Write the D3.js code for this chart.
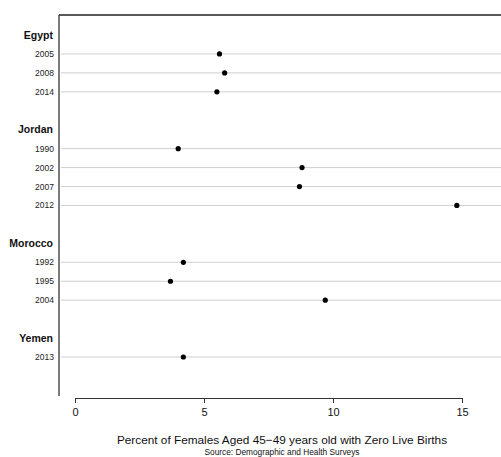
<!DOCTYPE html>
<html>
<head>
<meta charset="utf-8">
<script src="https://cdn.jsdelivr.net/npm/d3@7"></script>
<style>
  body { margin: 0; background: #fff; }
  text { font-family: "Liberation Sans", Arial, sans-serif; }
</style>
</head>
<body>
<script>
// data
var countries = ["Egypt", "Jordan", "Morocco", "Yemen"];
var egyptYears = ["2005", "2008", "2014"];
var egyptValues = [5.6, 5.8, 5.5];
var jordanYears = ["1990", "2002", "2007", "2012"];
var jordanValues = [4.0, 8.8, 8.7, 14.8];
var moroccoYears = ["1992", "1995", "2004"];
var moroccoValues = [4.2, 3.7, 9.7];
var yemenYears = ["2013"];
var yemenValues = [4.2];
var xTicks = [0, 5, 10, 15];

var groups = [
  { name: countries[0], years: egyptYears, values: egyptValues },
  { name: countries[1], years: jordanYears, values: jordanValues },
  { name: countries[2], years: moroccoYears, values: moroccoValues },
  { name: countries[3], years: yemenYears, values: yemenValues }
];

// build row slots: header, rows, blank spacer between groups
var slots = [];
groups.forEach(function (g, gi) {
  slots.push({ type: "header", label: g.name, key: "h" + gi });
  g.years.forEach(function (yr, i) {
    slots.push({ type: "row", label: yr, value: g.values[i], key: g.name + yr });
  });
  if (gi < groups.length - 1) slots.push({ type: "blank", key: "b" + gi });
});

var width = 501, height = 457;
var box = { left: 59, top: 15, bottom: 396 };

var x = d3.scaleLinear().domain([0, 15]).range([75, 462]);
var y = d3.scalePoint()
  .domain(slots.map(function (d) { return d.key; }))
  .range([35, 357]);

var svg = d3.select("body").append("svg")
  .attr("width", width)
  .attr("height", height);

var rows = slots.filter(function (d) { return d.type === "row"; });
var headers = slots.filter(function (d) { return d.type === "header"; });

// gridlines
svg.append("g").selectAll("line")
  .data(rows)
  .enter().append("line")
  .attr("x1", box.left + 2)
  .attr("x2", width)
  .attr("y1", function (d) { return y(d.key); })
  .attr("y2", function (d) { return y(d.key); })
  .attr("stroke", "#cfcfcf")
  .attr("stroke-width", 1);

// frame: left and top
svg.append("line")
  .attr("x1", box.left).attr("x2", box.left)
  .attr("y1", box.top).attr("y2", box.bottom)
  .attr("stroke", "#333").attr("stroke-width", 1.3);
svg.append("line")
  .attr("x1", box.left).attr("x2", width)
  .attr("y1", box.top).attr("y2", box.top)
  .attr("stroke", "#222").attr("stroke-width", 1.3);

// row labels
svg.append("g").selectAll("text")
  .data(rows)
  .enter().append("text")
  .attr("x", 54)
  .attr("y", function (d) { return y(d.key); })
  .attr("dy", "0.35em")
  .attr("text-anchor", "end")
  .style("font-size", "8.5px")
  .attr("fill", "#222")
  .text(function (d) { return d.label; });

svg.append("g").selectAll("text")
  .data(headers)
  .enter().append("text")
  .attr("x", 53)
  .attr("y", function (d) { return y(d.key); })
  .attr("dy", "0.35em")
  .attr("text-anchor", "end")
  .style("font-size", "10.5px")
  .style("font-weight", "bold")
  .attr("fill", "#111")
  .text(function (d) { return d.label; });

// dots
svg.append("g").selectAll("circle")
  .data(rows)
  .enter().append("circle")
  .attr("cx", function (d) { return x(d.value); })
  .attr("cy", function (d) { return y(d.key); })
  .attr("r", 2.6)
  .attr("fill", "#000");

// x axis
var xAxis = d3.axisBottom(x).tickValues(xTicks).tickSize(5).tickSizeOuter(0).tickPadding(5);
var gx = svg.append("g")
  .attr("transform", "translate(0,398)")
  .call(xAxis);
gx.select(".domain").attr("stroke", "#333").attr("stroke-width", 1.2);
gx.selectAll(".tick line").attr("stroke", "#333");
gx.selectAll(".tick text")
  .style("font-size", "11px")
  .attr("fill", "#111");

// titles
svg.append("text")
  .attr("x", 282)
  .attr("y", 444)
  .attr("text-anchor", "middle")
  .style("font-size", "11.8px")
  .attr("fill", "#111")
  .text("Percent of Females Aged 45\u221249 years old with Zero Live Births");

svg.append("text")
  .attr("x", 282)
  .attr("y", 455)
  .attr("text-anchor", "middle")
  .style("font-size", "8.3px")
  .attr("fill", "#111")
  .text("Source: Demographic and Health Surveys");
</script>
</body>
</html>
